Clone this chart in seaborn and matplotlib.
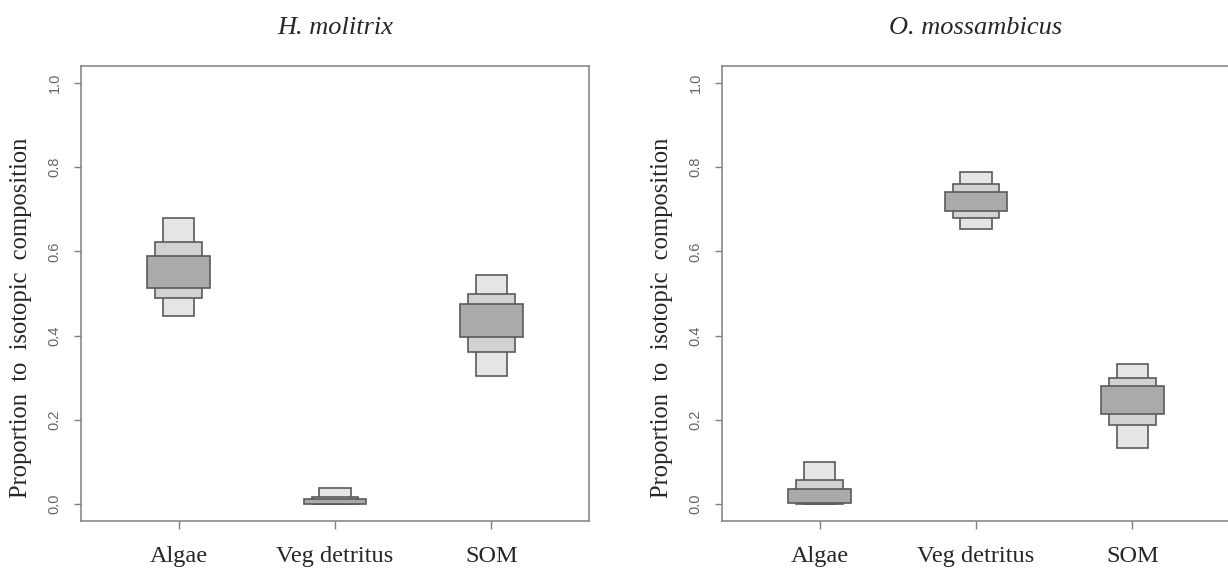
import numpy as np
import matplotlib
matplotlib.use("Agg")
import matplotlib.pyplot as plt
import seaborn as sns

sources = ["Algae", "Veg detritus", "SOM"]
titles = ["H. molitrix", "O. mossambicus"]
yticks = [0.0, 0.2, 0.4, 0.6, 0.8, 1.0]

# credible intervals (low, high) of source proportions
# H. molitrix
hm_95_lo = [0.447, 0.000, 0.303]
hm_95_hi = [0.679, 0.038, 0.544]
hm_75_lo = [0.490, 0.000, 0.360]
hm_75_hi = [0.623, 0.018, 0.498]
hm_50_lo = [0.514, 0.000, 0.397]
hm_50_hi = [0.590, 0.012, 0.475]

# O. mossambicus
om_95_lo = [0.000, 0.654, 0.134]
om_95_hi = [0.101, 0.789, 0.333]
om_75_lo = [0.000, 0.679, 0.187]
om_75_hi = [0.057, 0.759, 0.299]
om_50_lo = [0.003, 0.696, 0.215]
om_50_hi = [0.037, 0.740, 0.280]

sns.set_style("white")
plt.rcParams["font.family"] = ["Liberation Serif", "DejaVu Serif"]

edge = "#5a5a5a"
axis_col = "#808080"


def draw_panel(ax, intervals, title):
    # widest box = 50% interval, drawn last so it sits on top
    for (lo, hi), w, col in zip(intervals, [0.2, 0.3, 0.4], ["#e5e5e5", "#d2d2d2", "#aaaaaa"]):
        sns.barplot(x=sources, y=np.subtract(hi, lo), bottom=lo, order=sources,
                    width=w, color=col, saturation=1, edgecolor=edge,
                    linewidth=1.2, errorbar=None, ax=ax)
    ax.set_xlim(-0.625, 2.625)
    ax.set_ylim(-0.04, 1.04)
    ax.set_yticks(yticks)
    ax.set_yticklabels([f"{t:.1f}" for t in yticks], family="Liberation Sans",
                       fontsize=10.5, color="#666666", rotation=90, va="center")
    ax.tick_params(axis="y", left=True, length=5, width=1.0, color=axis_col, pad=9)
    ax.tick_params(axis="x", bottom=True, length=6, width=1.0, color=axis_col,
                   pad=12, labelsize=17.5)
    for s in ax.spines.values():
        s.set_visible(True)
        s.set_color(axis_col)
        s.set_linewidth(1.1)
    ax.set_xlabel("")
    ax.set_ylabel("Proportion  to  isotopic  composition", fontsize=17.7)
    ax.yaxis.set_label_coords(-0.097, 0.447)
    ax.set_title(title, style="italic", fontsize=19, pad=23)


fig = plt.figure(figsize=(12.28, 5.70), dpi=100)
ax1 = fig.add_axes([81 / 1228, 49 / 570, 508 / 1228, 455 / 570])
ax2 = fig.add_axes([722 / 1228, 49 / 570, 508 / 1228, 455 / 570])

draw_panel(ax1, [(hm_95_lo, hm_95_hi), (hm_75_lo, hm_75_hi), (hm_50_lo, hm_50_hi)], titles[0])
draw_panel(ax2, [(om_95_lo, om_95_hi), (om_75_lo, om_75_hi), (om_50_lo, om_50_hi)], titles[1])

fig.savefig("out.png", dpi=100)
